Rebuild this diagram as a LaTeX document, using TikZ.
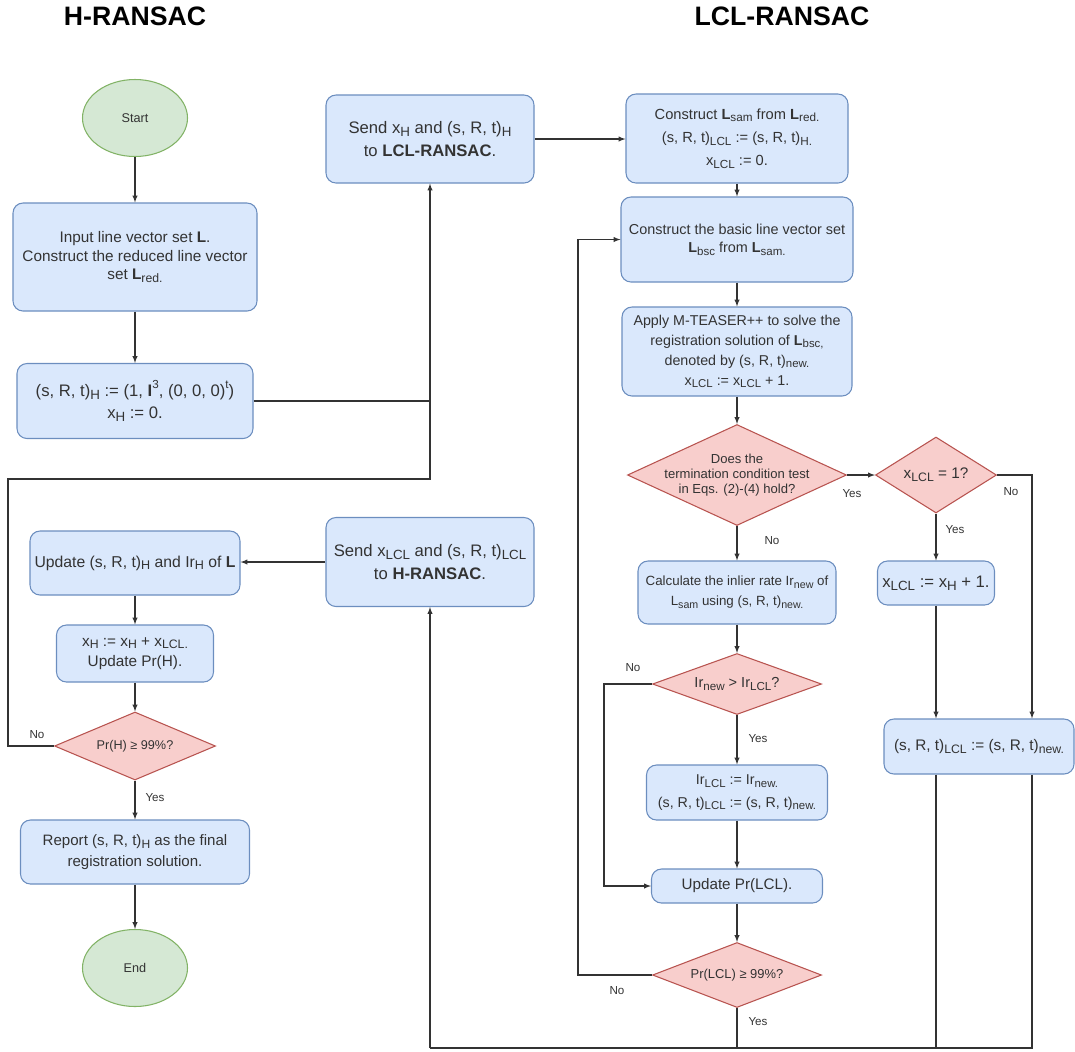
\documentclass[tikz,border=0pt]{standalone}
\usepackage{fontspec}
\setmainfont{Liberation Sans}
\usepackage{amsmath}
\usepackage{graphicx}
\usepackage{xcolor}
\usepackage{tikz}
\usetikzlibrary{shapes,arrows,calc}
\usetikzlibrary{shapes.geometric}
\definecolor{procfill}{HTML}{DAE8FC}
\definecolor{procline}{HTML}{6C8EBF}
\definecolor{decfill}{HTML}{F8CECC}
\definecolor{decline}{HTML}{B85450}
\definecolor{endfill}{HTML}{D5E8D4}
\definecolor{endline}{HTML}{82B366}
\definecolor{txt}{HTML}{333333}
\newcommand{\lsub}[1]{\raisebox{-0.35ex}{\scalebox{0.8}{#1}}}
\newcommand{\lsup}[1]{\raisebox{0.9ex}{\scalebox{0.7}{#1}}}

\begin{document}
\begin{tikzpicture}[x=0.75pt,y=-0.75pt,
	proc/.style={draw=procline,fill=procfill,rounded corners=7.5pt,line width=0.8pt,align=center,text=txt,inner sep=1pt},
	decis/.style={diamond,draw=decline,fill=decfill,line width=0.8pt,inner sep=0pt},
	dtext/.style={align=center,text=txt,inner sep=0pt},
	termin/.style={ellipse,draw=endline,fill=endfill,line width=0.8pt,text=txt,font=\fontsize{9.5}{11}\selectfont},
	sz/.style 2 args={minimum width=#1*0.75pt,minimum height=#2*0.75pt},
	arr/.style={-latex,line width=0.8pt,draw=black!80},
	wire/.style={line width=0.8pt,draw=black!80},
	lbl/.style={text=txt,font=\fontsize{8.7}{10}\selectfont,inner sep=0pt},
	ttl/.style={font=\fontsize{20}{24}\selectfont\bfseries}]
		\useasboundingbox (0,0) rectangle (1075,1051);
		\node[ttl] (ttlH) at (135,16) {H-RANSAC};
		\node[ttl] (ttlL) at (782,16) {LCL-RANSAC};
		% H-RANSAC column
		\node[termin,sz={105}{77}] (start) at (135,118) {Start};
		\node[proc,sz={244}{108},font=\fontsize{11.5}{14}\selectfont] (input) at (135,257) {Input line vector set \textbf{L}.\\Construct the reduced line vector\\set \textbf{L}\lsub{red.}};
		\node[proc,sz={236}{75},font=\fontsize{12.5}{17}\selectfont] (init) at (135,401) {(s, R, t)\lsub{H} := (1, $\mathbf{I}$\lsup{3}, (0, 0, 0)\lsup{t})\\x\lsub{H} := 0.};
		\node[proc,sz={208}{88},font=\fontsize{12.5}{17}\selectfont] (sendH) at (430,139) {Send x\lsub{H} and (s, R, t)\lsub{H}\\to \textbf{LCL-RANSAC}.};
		\node[proc,sz={208}{89},font=\fontsize{12.5}{17}\selectfont] (sendL) at (430,562) {Send x\lsub{LCL} and (s, R, t)\lsub{LCL}\\to \textbf{H-RANSAC}.};
		\node[proc,sz={210}{64},font=\fontsize{11.8}{15}\selectfont] (updH) at (135,563) {Update (s, R, t)\lsub{H} and Ir\lsub{H} of \textbf{L}};
		\node[proc,sz={157}{57},font=\fontsize{11.5}{15.5}\selectfont] (xH) at (135,653.5) {x\lsub{H} := x\lsub{H} + x\lsub{LCL.}\\Update Pr(H).};
		\node[decis,sz={161}{68}] (prH) at (135,746) {};
		\node[dtext,font=\fontsize{9.5}{12}\selectfont] (prHT) at (prH) {Pr(H) ≥ 99\%?};
		\node[proc,sz={229}{64},font=\fontsize{11.3}{15.5}\selectfont] (report) at (135,852) {Report (s, R, t)\lsub{H} as the final\\registration solution.};
		\node[termin,sz={105}{77}] (stop) at (135,968) {End};
		% LCL-RANSAC column
		\node[proc,sz={222}{89},font=\fontsize{11}{17.5}\selectfont] (sam) at (737,138.5) {Construct \textbf{L}\lsub{sam} from \textbf{L}\lsub{red.}\\(s, R, t)\lsub{LCL} := (s, R, t)\lsub{H.}\\x\lsub{LCL} := 0.};
		\node[proc,sz={232}{85},font=\fontsize{10.8}{14}\selectfont] (bsc) at (737,239.5) {Construct the basic line vector set\\\textbf{L}\lsub{bsc} from \textbf{L}\lsub{sam.}};
		\node[proc,sz={230}{89},font=\fontsize{10.7}{15}\selectfont] (apply) at (737,351.5) {Apply M-TEASER++ to solve the\\registration solution of \textbf{L}\lsub{bsc,}\\denoted by (s, R, t)\lsub{new.}\\x\lsub{LCL} := x\lsub{LCL} + 1.};
		\node[decis,sz={219}{101}] (cond) at (737,475) {};
		\node[dtext,font=\fontsize{9.8}{11.5}\selectfont] (condT) at (cond) {Does the\\termination condition test\\in Eqs. (2)-(4) hold?};
		\node[decis,sz={121}{76}] (one) at (936,475) {};
		\node[dtext,font=\fontsize{11.5}{14}\selectfont] (oneT) at (one) {x\lsub{LCL} = 1?};
		\node[proc,sz={117}{44},font=\fontsize{12.5}{15}\selectfont] (xone) at (936,583) {x\lsub{LCL} := x\lsub{H} + 1.};
		\node[proc,sz={190}{55},font=\fontsize{11.5}{14}\selectfont] (res) at (979,746.5) {(s, R, t)\lsub{LCL} := (s, R, t)\lsub{new.}};
		\node[proc,sz={198}{63},font=\fontsize{10}{15}\selectfont] (rate) at (737,592.5) {Calculate the inlier rate Ir\lsub{new} of\\L\lsub{sam} using (s, R, t)\lsub{new.}};
		\node[decis,sz={169}{61}] (cmp) at (737,684) {};
		\node[dtext,font=\fontsize{10.9}{13}\selectfont] (cmpT) at (cmp) {Ir\lsub{new} > Ir\lsub{LCL}?};
		\node[proc,sz={181}{55},font=\fontsize{10.7}{17}\selectfont] (keep) at (737,792.5) {Ir\lsub{LCL} := Ir\lsub{new.}\\(s, R, t)\lsub{LCL} := (s, R, t)\lsub{new.}};
		\node[proc,sz={171}{34},font=\fontsize{11.4}{14}\selectfont] (prUpd) at (737,886) {Update Pr(LCL).};
		\node[decis,sz={169}{65}] (prL) at (737,975) {};
		\node[dtext,font=\fontsize{9.7}{12}\selectfont] (prLT) at (prL) {Pr(LCL) ≥ 99\%?};
		% turning points
		\coordinate (loopL) at (8,479);
		\coordinate (skipL) at (604,684);
		\coordinate (backL) at (578,975);
		\coordinate (colR) at (1032,1048);
		\coordinate (colM) at (936,1048);
		\coordinate (colY) at (737,1048);
		\coordinate (colS) at (430,1048);
		% connectors
		\draw[arr] (start.south) -- (input.north);
		\draw[arr] (input.south) -- (init.north);
		\draw[arr] (init.east) -| (sendH.south);
		\draw[wire] (prH.west) -| (loopL) -| (init.east -| sendH.south);
		\draw[arr] (sendH.east) -- (sendH.east -| sam.west);
		\draw[arr] (sam.south) -- (bsc.north);
		\draw[arr] (bsc.south) -- (apply.north);
		\draw[arr] (apply.south) -- (cond.north);
		\draw[arr] (cond.east) -- (one.west);
		\draw[arr] (one.south) -- (xone.north);
		\draw[arr] (one.east) -| (res.north -| colR);
		\draw[arr] (xone.south) -- (xone.south |- res.north);
		\draw[arr] (cond.south) -- (rate.north);
		\draw[arr] (rate.south) -- (cmp.north);
		\draw[arr] (cmp.west) -- (skipL) |- (prUpd.west);
		\draw[arr] (cmp.south) -- (keep.north);
		\draw[arr] (keep.south) -- (prUpd.north);
		\draw[arr] (prUpd.south) -- (prL.north);
		\draw[arr] (prL.west) -- (backL) |- (bsc.west);
		\draw[wire] (res.south -| colR) -- (colR) -- (colS);
		\draw[wire] (res.south -| colM) -- (colM);
		\draw[wire] (prL.south) -- (colY);
		\draw[arr] (colS) -- (sendL.south);
		\draw[arr] (sendL.west) -- (sendL.west -| updH.east);
		\draw[arr] (updH.south) -- (xH.north);
		\draw[arr] (xH.south) -- (prH.north);
		\draw[arr] (prH.south) -- (report.north);
		\draw[arr] (report.south) -- (stop.north);
		% branch labels
		\node[lbl] (noH) at (37,735) {No};
		\node[lbl] (yesH) at (155,798) {Yes};
		\node[lbl] (yesC) at (852,494) {Yes};
		\node[lbl] (noC) at (772,541) {No};
		\node[lbl] (noO) at (1011,492) {No};
		\node[lbl] (yesO) at (955,530) {Yes};
		\node[lbl] (noI) at (633,668) {No};
		\node[lbl] (yesI) at (758,739) {Yes};
		\node[lbl] (noP) at (617,991) {No};
		\node[lbl] (yesP) at (758,1022) {Yes};
	\end{tikzpicture}
\end{document}
